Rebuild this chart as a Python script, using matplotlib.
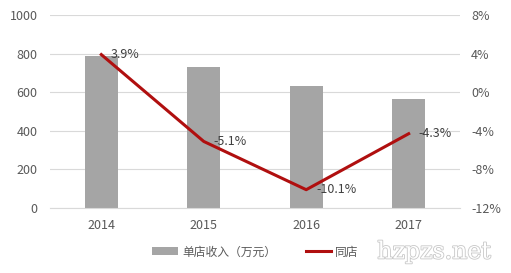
import numpy as np
import matplotlib.pyplot as plt
import matplotlib.patheffects as pe

plt.rcParams['font.family'] = ['Noto Sans CJK SC', 'DejaVu Sans']

years = ['2014', '2015', '2016', '2017']
revenue = [787, 730, 632, 565]
same_store = [3.9, -5.1, -10.1, -4.3]
labels = ['3.9%', '-5.1%', '-10.1%', '-4.3%']

gray_text = '#595959'

fig = plt.figure(figsize=(5.11, 2.73), dpi=100)
ax = fig.add_axes([0.098, 0.238, 0.802, 0.707])
x = np.arange(len(years))

bars = ax.bar(x, revenue, width=0.32, color='#A5A5A5', label='单店收入（万元）', zorder=2)
ax.set_ylim(0, 1000)
ax.set_yticks(range(0, 1001, 200))
ax.set_xlim(-0.5, 3.5)
ax.set_xticks(x)
ax.set_xticklabels(years)
ax.grid(axis='y', color='#D9D9D9', linewidth=0.8, zorder=0)
for s in ['top', 'right', 'left']:
    ax.spines[s].set_visible(False)
ax.spines['bottom'].set_color('#D9D9D9')
ax.tick_params(length=0, labelsize=9, colors=gray_text)
ax.tick_params(axis='y', pad=9)
ax.tick_params(axis='x', pad=8)

ax2 = ax.twinx()
line, = ax2.plot(x, same_store, color='#B00F0F', linewidth=2.2, label='同店', zorder=3)
ax2.set_ylim(-12, 8)
ax2.set_yticks(range(-12, 9, 4))
ax2.set_yticklabels([f'{v}%' for v in range(-12, 9, 4)])
for s in ax2.spines.values():
    s.set_visible(False)
ax2.tick_params(length=0, labelsize=9, colors=gray_text, pad=8)

for xi, yi, lab in zip(x, same_store, labels):
    ax2.annotate(lab, (xi, yi), xytext=(7, 0), textcoords='offset points',
                 ha='left', va='center', fontsize=9, color='#404040')

fig.legend(handles=[bars, line], loc='center', bbox_to_anchor=(0.5, 0.077),
           ncol=2, frameon=False, fontsize=8.5, labelcolor=gray_text,
           handlelength=2.2, columnspacing=2.5, handletextpad=0.3)

fig.text(0.85, 0.077, 'hzpzs.net', fontsize=17, color='white', ha='center', va='center',
         family='DejaVu Serif',
         path_effects=[pe.withStroke(linewidth=1.2, foreground='#C8C8C8')])

fig.savefig('out.png', dpi=100)
